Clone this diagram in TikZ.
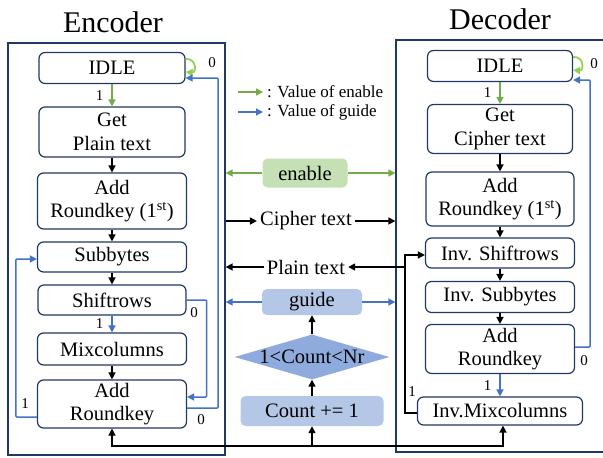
\documentclass[tikz,border=0pt]{standalone}
\usepackage{fontspec}
\setmainfont{Liberation Serif}
\usetikzlibrary{shapes.geometric,arrows.meta}

\definecolor{navy}{HTML}{203864}
\definecolor{egreen}{HTML}{70AD47}
\definecolor{lgreen}{HTML}{92D050}
\definecolor{gblue}{HTML}{4472C4}
\definecolor{enfill}{HTML}{C5E0B4}
\definecolor{gdfill}{HTML}{B4C7E7}
\definecolor{dmfill}{HTML}{8FAADC}

\begin{document}
\begin{tikzpicture}[x=1pt,y=-1pt,
                    >={Triangle[length=7pt,width=7pt]},
                    font=\fontsize{20.5}{23.5}\selectfont]
    \tikzstyle{frame}=[draw=navy,line width=1.3pt]
    \tikzstyle{state}=[draw=navy,fill=white,rounded corners=6pt,line width=1.2pt,minimum width=146pt,minimum height=31pt,align=center,inner sep=1pt]
    \tikzstyle{tall}=[state,minimum height=52pt]
    \tikzstyle{shared}=[fill=gdfill,rounded corners=5pt,align=center]
    \tikzstyle{flow}=[->,black,line width=1.5pt]
    \tikzstyle{en}=[->,egreen,line width=1.5pt]
    \tikzstyle{gd}=[->,gblue,line width=1.5pt]
    \tikzstyle{num}=[font=\fontsize{15}{15}\selectfont,text=black,inner sep=1pt]
    \tikzstyle{legend}=[right,font=\fontsize{17}{17}\selectfont,text=black]

    \useasboundingbox (0,0) rectangle (603,458);

    % frames and titles
    \node[frame,minimum width=217pt,minimum height=412pt] (encframe) at (116.5,249) {};
    \node[frame,minimum width=212pt,minimum height=412pt] (decframe) at (502,246) {};
    \node[font=\fontsize{30}{32}\selectfont] (enctitle) at (113,22) {Encoder};
    \node[font=\fontsize{30}{32}\selectfont] (dectitle) at (500,19) {Decoder};

    % encoder
    \node[state] (eidle) at (112,68) {IDLE};
    \node[tall,minimum height=50pt] (eget) at (112,132) {Get\\Plain text};
    \node[tall,minimum height=56pt,minimum width=149pt] (eark1) at (112,201) {Add\\Roundkey (1\textsuperscript{st})};
    \node[state,minimum width=149pt,minimum height=30pt] (esub) at (112,257) {Subbytes};
    \node[state,minimum width=148pt,minimum height=30pt] (eshift) at (112,300) {Shiftrows};
    \node[state,minimum width=149pt,minimum height=32pt] (emix) at (112,349) {Mixcolumns};
    \node[tall,minimum height=48pt,minimum width=149pt] (eark) at (112,404) {Add\\Roundkey};

    \draw[en] (eidle) -- (eget) node[num,midway,left=7pt] {1};
    \draw[flow] (eget) -- (eark1);
    \draw[flow] (eark1) -- (esub);
    \draw[flow] (esub) -- (eshift);
    \draw[gd] (eshift) -- (emix) node[num,midway,left=7pt] {1};
    \draw[flow] (emix) -- (eark);

    \draw[->,lgreen,line width=1.8pt] ([yshift=9pt]eidle.east) to[out=5,in=-5,looseness=2.2] ([yshift=-4pt]eidle.east);
    \node[num] (e0a) at (212,63) {0};
    \draw[gd,rounded corners=1pt] ([yshift=-4pt]eark.east) -- ++(31,0) |- ([yshift=-10pt]eidle.east);
    \node[num] (e0b) at (201,420) {0};
    \draw[gd,rounded corners=1pt] (eshift.east) -- ++(20,0) |- ([yshift=7pt]eark.east);
    \node[num] (e0c) at (194,313) {0};
    \draw[gd,rounded corners=1pt] ([yshift=-13pt]eark.west) -- ++(-21,0) |- ([yshift=-2pt]esub.west);
    \node[num] (e1a) at (25,404) {1};

    % legend
    \coordinate (lgen) at (238,92);
    \coordinate (lggd) at (238,112);
    \draw[en] (lgen) -- ++(25,0) node[legend] {: Value of enable};
    \draw[gd] (lggd) -- ++(25,0) node[legend] {: Value of guide};

    % shared signals
    \node[shared,fill=enfill,minimum width=85pt,minimum height=29pt] (enable) at (305,173) {enable};
    \draw[en] (enable.west) -- (encframe.east |- enable);
    \draw[en] (enable.east) -- (decframe.west |- enable);

    \node[inner sep=3pt] (cipher) at (306,221) {Cipher text};
    \draw[flow] (encframe.east |- cipher) -- (cipher.west);
    \draw[flow] (cipher.east) -- (decframe.west |- cipher);

    \node[inner sep=3pt] (plain) at (306,267) {Plain text};
    \draw[flow] (plain.west) -- (encframe.east |- plain);

    \node[shared,minimum width=100pt,minimum height=26pt] (guide) at (312,302) {guide};
    \draw[gd] (guide.west) -- (encframe.east |- guide);
    \draw[gd] (guide.east) -- (decframe.west |- guide);

    \node[diamond,fill=dmfill,aspect=3.4,inner sep=0pt,minimum width=155pt,minimum height=45pt] (cond) at (312,357) {};
    \node (condtext) at (cond) {1<Count<Nr};
    \node[shared,minimum width=143pt,minimum height=30pt] (count) at (312,411) {Count += 1};
    \draw[flow] (count) -- (cond);
    \draw[flow] (cond) -- (guide);

    % decoder
    \node[state,minimum width=145pt] (didle) at (500,66) {IDLE};
    \node[tall,minimum width=145pt,minimum height=49pt] (dget) at (500,129) {Get\\Cipher text};
    \node[tall,minimum width=148pt,minimum height=54pt] (dark1) at (500,199) {Add\\Roundkey (1\textsuperscript{st})};
    \node[state,minimum width=149pt,minimum height=30pt] (dshift) at (500,253) {Inv. Shiftrows};
    \node[state,minimum width=149pt,minimum height=31pt] (dsub) at (500,297) {Inv. Subbytes};
    \node[tall,minimum width=149pt,minimum height=49pt] (dark) at (500,349) {Add\\Roundkey};
    \node[state,minimum width=165pt,minimum height=28pt] (dmix) at (500,411) {Inv.Mixcolumns};

    \draw[en] (didle) -- (dget) node[num,midway,left=7pt] {1};
    \draw[flow] (dget) -- (dark1);
    \draw[flow] (dark1) -- (dshift);
    \draw[flow] (dshift) -- (dsub);
    \draw[flow] (dsub) -- (dark);
    \draw[gd] (dark) -- (dmix) node[num,midway,left=7pt] {1};

    \draw[->,lgreen,line width=1.8pt] ([yshift=9pt]didle.east) to[out=5,in=-5,looseness=2.2] ([yshift=-4pt]didle.east);
    \node[num] (d0a) at (594,64) {0};
    \draw[gd,rounded corners=1pt] ([yshift=2pt]dark.east) -- ++(15,0) |- ([yshift=-14pt]didle.east);
    \node[num] (d0b) at (584,361) {0};

    \coordinate (dloop) at ([xshift=-12pt,yshift=-2pt]dmix.west);
    \draw[flow] ([yshift=-2pt]dmix.west) -- (dloop) |- ([yshift=-2pt]dshift.west);
    \node[num] (d1a) at (412,392) {1};
    \draw[flow] (dloop |- plain) -- (plain.east);

    % counter bus
    \coordinate (bus) at (312,446);
    \draw[flow] (bus) -- (count);
    \draw[flow] (bus) -| (eark.south);
    \draw[flow] (bus) -| ([xshift=3pt]dmix.south);
\end{tikzpicture}
\end{document}
